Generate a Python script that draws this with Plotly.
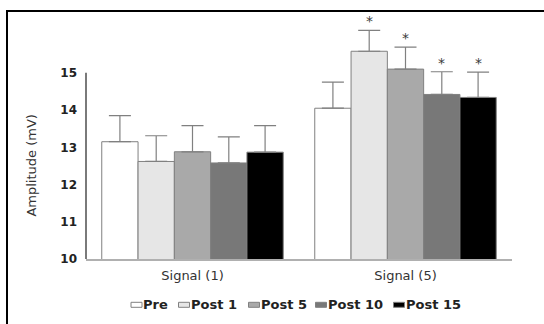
import plotly.graph_objects as go

categories = ["Signal (1)", "Signal (5)"]
series_names = ["Pre", "Post 1", "Post 5", "Post 10", "Post 15"]
pre_mean = [13.15, 14.05]
post1_mean = [12.62, 15.58]
post5_mean = [12.88, 15.10]
post10_mean = [12.58, 14.42]
post15_mean = [12.87, 14.34]
pre_err = [0.70, 0.70]
post1_err = [0.69, 0.56]
post5_err = [0.70, 0.59]
post10_err = [0.70, 0.61]
post15_err = [0.71, 0.68]
pre_sig = [False, False]
post1_sig = [False, True]
post5_sig = [False, True]
post10_sig = [False, True]
post15_sig = [False, True]
y_ticks = [10, 11, 12, 13, 14, 15]

means = [pre_mean, post1_mean, post5_mean, post10_mean, post15_mean]
errs = [pre_err, post1_err, post5_err, post10_err, post15_err]
sigs = [pre_sig, post1_sig, post5_sig, post10_sig, post15_sig]
colors = ["#ffffff", "#e6e6e6", "#a9a9a9", "#787878", "#000000"]

FONT = "DejaVu Sans, Verdana, sans-serif"
Y_MIN, Y_MAX = 10, 16.5
bargap = 0.148
n = len(series_names)
group_w = 1 - bargap
bar_w = group_w / n

fig = go.Figure()
for k in range(n):
    fig.add_trace(go.Bar(
        x=categories, y=means[k], name=series_names[k],
        marker=dict(color=colors[k], line=dict(color="#808080", width=1)),
        error_y=dict(type="data", array=errs[k], arrayminus=[0] * len(categories),
                     symmetric=False, color="#808080", thickness=1.2, width=11),
        showlegend=False,
    ))

annotations = []
for k in range(n):
    off = -group_w / 2 + (k + 0.5) * bar_w
    for i in range(len(categories)):
        if sigs[k][i]:
            annotations.append(dict(
                x=i + off, y=means[k][i] + errs[k][i], xref="x", yref="y",
                text="*", showarrow=False, yanchor="bottom", yshift=-1,
                font=dict(family=FONT, size=14, color="#3a3a3a"),
            ))

annotations.append(dict(
    x=-0.1275, y=(y_ticks[0] + y_ticks[-1]) / 2, xref="paper", yref="y",
    text="Amplitude (mV)", textangle=-90, showarrow=False,
    xanchor="center", yanchor="middle",
    font=dict(family=FONT, size=13, color="#333333"),
))

plot_w = 426.0
plot_h = 242.0
legend_px = [131.0, 178.5, 248.5, 315.5, 393.5]
legend_y_px = 304.8
shapes = []
for k in range(n):
    xp = (legend_px[k] - 86) / plot_w
    yp = (259 - legend_y_px) / plot_h
    shapes.append(dict(
        type="rect", xref="paper", yref="paper",
        xsizemode="pixel", ysizemode="pixel", xanchor=xp, yanchor=yp,
        x0=0, x1=11, y0=-2.5, y1=2.5,
        fillcolor=colors[k], line=dict(color="#808080", width=1),
    ))
    annotations.append(dict(
        x=xp, y=yp, xref="paper", yref="paper", xshift=10,
        text="<b>%s</b>" % series_names[k], showarrow=False,
        xanchor="left", yanchor="middle",
        font=dict(family=FONT, size=13, color="#222222"),
    ))

# y axis line only across the tick range
shapes.append(dict(type="line", xref="paper", yref="paper",
                   x0=0.0, x1=0.0,
                   y0=(y_ticks[0] - Y_MIN) / (Y_MAX - Y_MIN),
                   y1=(y_ticks[-1] - Y_MIN) / (Y_MAX - Y_MIN),
                   line=dict(color="#7a7a7a", width=2), layer="above"))
# outer frame
shapes.append(dict(type="rect", xref="paper", yref="paper",
                   x0=(7 - 86) / plot_w, x1=1.2,
                   y0=-0.5, y1=(259 - 11) / plot_h,
                   line=dict(color="#000000", width=2), fillcolor="rgba(0,0,0,0)"))

fig.update_layout(
    width=544, height=324,
    margin=dict(l=86, r=32, t=17, b=65),
    paper_bgcolor="white", plot_bgcolor="white",
    barmode="group", bargap=bargap, bargroupgap=0,
    font=dict(family=FONT, color="#333333"),
    annotations=annotations, shapes=shapes,
    xaxis=dict(type="category", range=[-0.5, 1.5], showline=True,
               linecolor="#b0b0b0", linewidth=2, ticks="", showgrid=False,
               zeroline=False, tickfont=dict(family=FONT, size=13, color="#333333"),
               ticklabelstandoff=3),
    yaxis=dict(range=[Y_MIN, Y_MAX], tickvals=y_ticks,
               ticktext=["<b>%d</b>" % v for v in y_ticks],
               showline=False, showgrid=False, zeroline=False, ticks="",
               tickfont=dict(family=FONT, size=12, color="#222222"),
               ticklabelstandoff=8),
)

fig.write_html("out.html")
